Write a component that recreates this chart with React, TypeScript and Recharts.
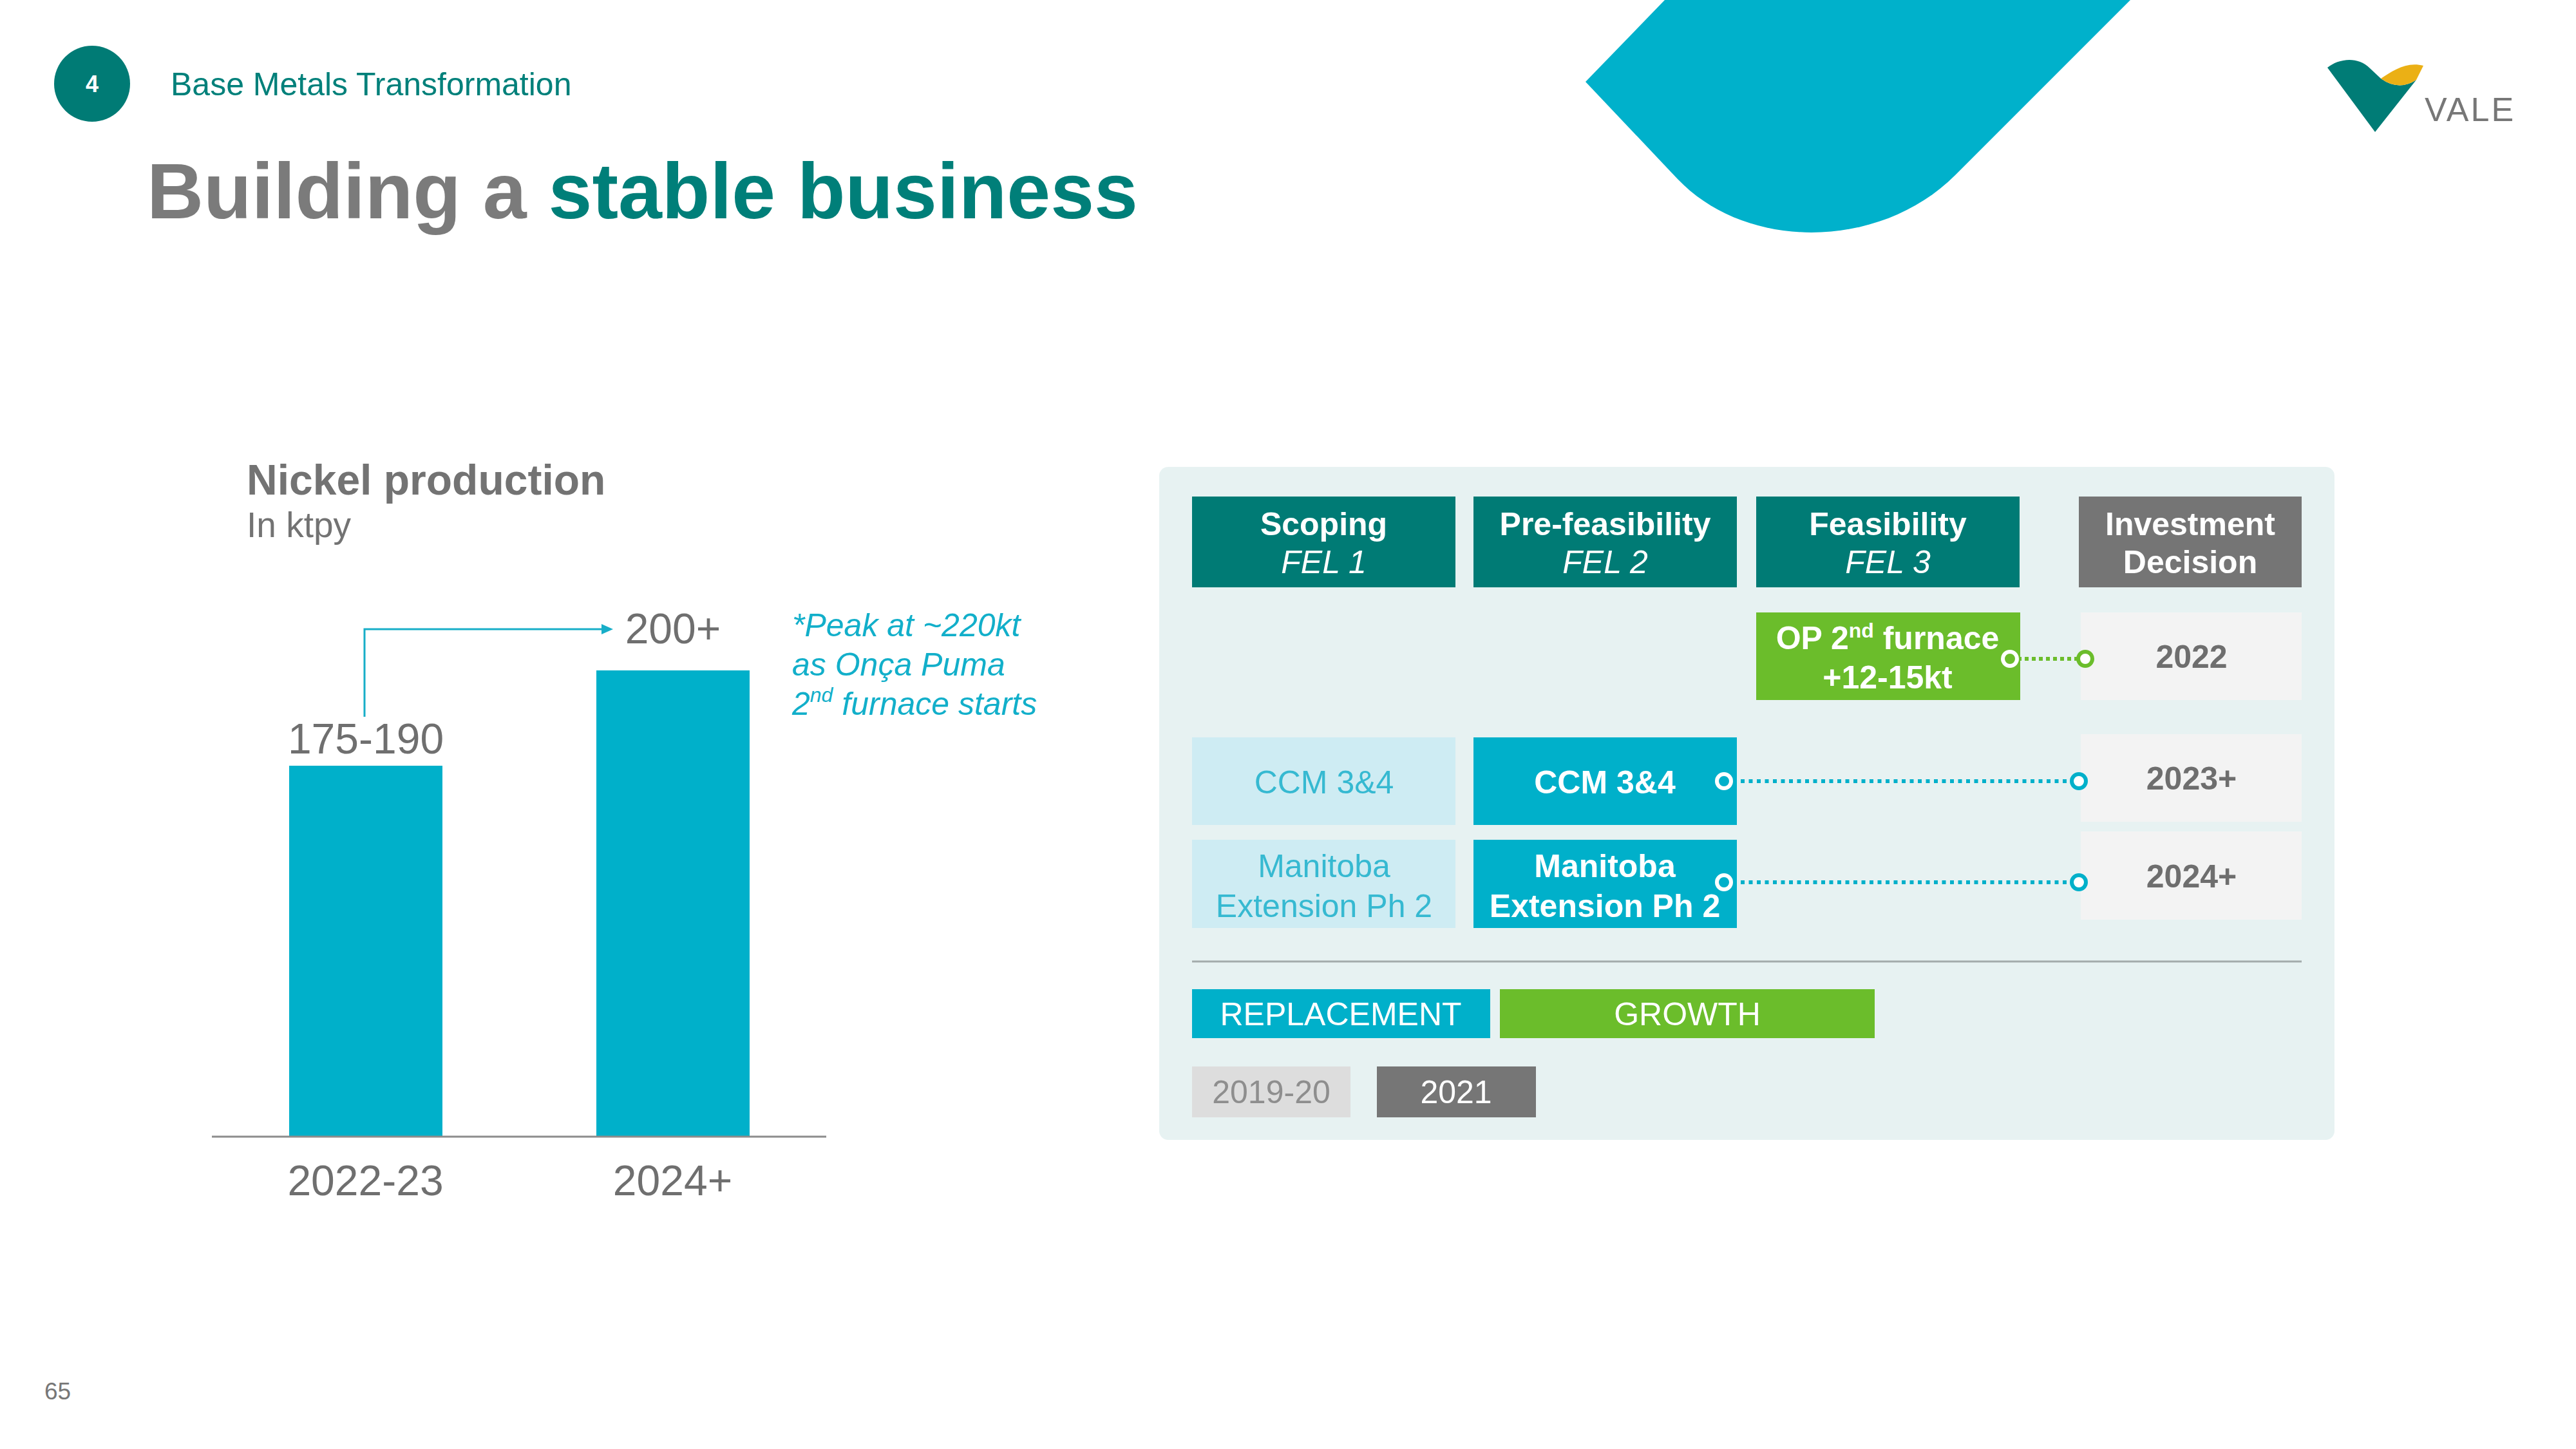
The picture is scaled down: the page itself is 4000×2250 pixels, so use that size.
import React from 'react';
import { BarChart, Bar, XAxis, YAxis, LabelList } from 'recharts';

// ---------- data ----------
const categories = ['2022-23', '2024+'];
const production = [175, 220]; // ktpy as drawn: low end of range, and peak ~220kt
const valueLabels = ['175-190', '200+'];

const stageTitles = ['Scoping', 'Pre-feasibility', 'Feasibility', 'Investment'];
const stageSubtitles = ['FEL 1', 'FEL 2', 'FEL 3', 'Decision'];
const decisionYears = ['2022', '2023+', '2024+'];
const legendTypes = ['REPLACEMENT', 'GROWTH'];
const legendYears = ['2019-20', '2021'];

const chartData = categories.map((c, i) => ({ category: c, value: production[i], label: valueLabels[i] }));

// ---------- style ----------
const FONT = '"Liberation Sans", Arial, Helvetica, sans-serif';
const TEAL = '#007B75';
const CYAN = '#00B0CA';
const GREEN = '#6BBD2B';
const GRAY = '#737373';
const PANEL = '#E7F2F2';
const LIGHT_CYAN = '#CEECF3';
const YEAR_BOX = '#F3F3F3';

const labelBaselineLift = [19, 42];

const BarValueLabel = (props: any) => {
  const { x, y, width, index } = props;
  return (
    <text
      x={x + width / 2}
      y={y - labelBaselineLift[index]}
      textAnchor="middle"
      fontFamily={FONT}
      fontSize={66}
      fill="#6F6F6F"
    >
      {valueLabels[index]}
    </text>
  );
};

const colX = [1851, 2288, 2727, 3228];
const colW = [409, 409, 409, 346];

export default function App() {
  return (
    <div style={{ position: 'absolute', left: 0, top: 0, width: 4000, height: 2250, background: '#fff', overflow: 'hidden' }}>
      {/* background decorations */}
      <svg width={4000} height={2250} style={{ position: 'absolute', left: 0, top: 0 }}>
        <path d="M 2585 0 L 3308 0 L 3036 272 C 2920 388 2713 391 2605 278 L 2462 127 Z" fill="#00B1CB" />
        {/* logo */}
        <path d="M 3614 105 C 3630 92 3660 86 3680 106 L 3697 122 Q 3725 142 3752 124 L 3688 205 Z" fill="#007C76" />
        <path d="M 3697 122 C 3715 110 3737 95 3763 102 L 3752 124 Q 3725 142 3697 122 Z" fill="#EBB015" />
        <text x={3765} y={188} fontFamily={FONT} fontSize={52} fill="#777" letterSpacing={3}>VALE</text>

        <circle cx={143} cy={130} r={59} fill="#007B75" />
        <text x={143} y={143} textAnchor="middle" fontFamily={FONT} fontSize={36} fontWeight="bold" fill="#fff">4</text>
        <text x={265} y={148} fontFamily={FONT} fontSize={50} fill="#00807A">Base Metals Transformation</text>
        <text x={228} y={339} fontFamily={FONT} fontSize={122} fontWeight="bold">
          <tspan fill="#7B7B7B">Building a </tspan>
          <tspan fill="#007F79">stable business</tspan>
        </text>

        <text x={383} y={768} fontFamily={FONT} fontSize={66} fontWeight="bold" fill="#737373">Nickel production</text>
        <text x={383} y={834} fontFamily={FONT} fontSize={55} fill="#737373">In ktpy</text>

        {/* annotation arrow */}
        <polyline points="566,1113 566,977 938,977" fill="none" stroke="#17AEC8" strokeWidth={3} />
        <polygon points="952,977 934,969 934,985" fill="#17AEC8" />

        <text fontFamily={FONT} fontSize={50} fontStyle="italic" fill="#12AFCA">
          <tspan x={1230} y={988}>*Peak at ~220kt</tspan>
          <tspan x={1230} y={1049}>as Onça Puma</tspan>
          <tspan x={1230} y={1110}>2<tspan dy={-20} fontSize={32}>nd</tspan><tspan dy={20}> furnace starts</tspan></tspan>
        </text>

        <text x={69} y={2173} fontFamily={FONT} fontSize={37} fill="#777">65</text>

        {/* right panel */}
        <rect x={1800} y={725} width={1825} height={1045} rx={14} fill={PANEL} />
        {stageTitles.map((t, i) => (
          <g key={t}>
            <rect x={colX[i]} y={771} width={colW[i]} height={141} fill={i === 3 ? '#757575' : TEAL} />
            <text x={colX[i] + colW[i] / 2} y={831} textAnchor="middle" fontFamily={FONT} fontSize={50} fontWeight="bold" fill="#fff">{t}</text>
            <text x={colX[i] + colW[i] / 2} y={890} textAnchor="middle" fontFamily={FONT} fontSize={50} fontWeight={i === 3 ? 'bold' : 'normal'} fontStyle={i === 3 ? 'normal' : 'italic'} fill="#fff">{stageSubtitles[i]}</text>
          </g>
        ))}

        {/* row 1: OP 2nd furnace */}
        <rect x={2727} y={951} width={410} height={136} fill={GREEN} />
        <text textAnchor="middle" fontFamily={FONT} fontSize={50} fontWeight="bold" fill="#fff">
          <tspan x={2931} y={1008}>OP 2<tspan dy={-18} fontSize={32}>nd</tspan><tspan dy={18}> furnace</tspan></tspan>
          <tspan x={2931} y={1069}>+12-15kt</tspan>
        </text>

        {/* row 2 & 3 */}
        <rect x={1851} y={1145} width={409} height={136} fill={LIGHT_CYAN} />
        <rect x={2288} y={1145} width={409} height={136} fill={CYAN} />
        <rect x={1851} y={1304} width={409} height={137} fill={LIGHT_CYAN} />
        <rect x={2288} y={1304} width={409} height={137} fill={CYAN} />
        <text x={2056} y={1232} textAnchor="middle" fontFamily={FONT} fontSize={50} fill="#36B9D1">CCM 3&amp;4</text>
        <text x={2492} y={1232} textAnchor="middle" fontFamily={FONT} fontSize={50} fontWeight="bold" fill="#fff">CCM 3&amp;4</text>
        <text textAnchor="middle" fontFamily={FONT} fontSize={50} fill="#36B9D1">
          <tspan x={2056} y={1362}>Manitoba</tspan>
          <tspan x={2056} y={1424}>Extension Ph 2</tspan>
        </text>
        <text textAnchor="middle" fontFamily={FONT} fontSize={50} fontWeight="bold" fill="#fff">
          <tspan x={2492} y={1362}>Manitoba</tspan>
          <tspan x={2492} y={1424}>Extension Ph 2</tspan>
        </text>

        {/* year boxes */}
        {[[951, 136], [1140, 136], [1291, 137]].map(([y, h], i) => (
          <g key={i}>
            <rect x={3231} y={y} width={343} height={h} fill={YEAR_BOX} />
            <text x={3403} y={y + h / 2 + 18} textAnchor="middle" fontFamily={FONT} fontSize={50} fontWeight="bold" fill="#6E6E6E">{decisionYears[i]}</text>
          </g>
        ))}

        {/* connectors */}
        <line x1={3133} y1={1023} x2={3226} y2={1023} stroke={GREEN} strokeWidth={6} strokeDasharray="6 5" />
        <circle cx={3121} cy={1023} r={11} fill={GREEN} stroke="#fff" strokeWidth={6} />
        <circle cx={3238} cy={1023} r={11} fill="#fff" stroke={GREEN} strokeWidth={6} />

        <line x1={2703} y1={1213} x2={3216} y2={1213} stroke={CYAN} strokeWidth={6} strokeDasharray="6 6.5" />
        <circle cx={2677} cy={1213} r={11} fill={CYAN} stroke="#fff" strokeWidth={6} />
        <circle cx={3228} cy={1213} r={11} fill="#fff" stroke={CYAN} strokeWidth={6} />

        <line x1={2703} y1={1370} x2={3216} y2={1370} stroke={CYAN} strokeWidth={6} strokeDasharray="6 6.5" />
        <circle cx={2677} cy={1370} r={11} fill={CYAN} stroke="#fff" strokeWidth={6} />
        <circle cx={3228} cy={1370} r={11} fill="#fff" stroke={CYAN} strokeWidth={6} />

        <line x1={1851} y1={1493} x2={3574} y2={1493} stroke="#A3ABAB" strokeWidth={3} />

        {/* legend */}
        <rect x={1851} y={1536} width={463} height={76} fill={CYAN} />
        <rect x={2329} y={1536} width={582} height={76} fill={GREEN} />
        <text x={2082} y={1592} textAnchor="middle" fontFamily={FONT} fontSize={50} fill="#fff">{legendTypes[0]}</text>
        <text x={2620} y={1592} textAnchor="middle" fontFamily={FONT} fontSize={50} fill="#fff">{legendTypes[1]}</text>
        <rect x={1851} y={1656} width={246} height={79} fill="#DDDDDD" />
        <rect x={2138} y={1656} width={247} height={79} fill="#767676" />
        <text x={1974} y={1713} textAnchor="middle" fontFamily={FONT} fontSize={50} fill="#8E8E8E">{legendYears[0]}</text>
        <text x={2261} y={1713} textAnchor="middle" fontFamily={FONT} fontSize={50} fill="#fff">{legendYears[1]}</text>
      </svg>

      {/* bar chart */}
      <div style={{ position: 'absolute', left: 0, top: 0 }}>
        <BarChart
          width={4000}
          height={2250}
          data={chartData}
          margin={{ top: 1041, right: 2717, bottom: 385, left: 329 }}
          barCategoryGap={120}
        >
          <XAxis
            dataKey="category"
            height={100}
            tickLine={false}
            tickSize={0}
            tickMargin={44}
            axisLine={{ stroke: '#8C8C8C', strokeWidth: 3 }}
            tick={{ fontSize: 66, fill: '#6F6F6F', fontFamily: FONT }}
            interval={0}
          />
          <YAxis hide domain={[0, 220]} />
          <Bar dataKey="value" fill={CYAN} barSize={238} isAnimationActive={false}>
            <LabelList dataKey="label" content={BarValueLabel} />
          </Bar>
        </BarChart>
      </div>
    </div>
  );
}
